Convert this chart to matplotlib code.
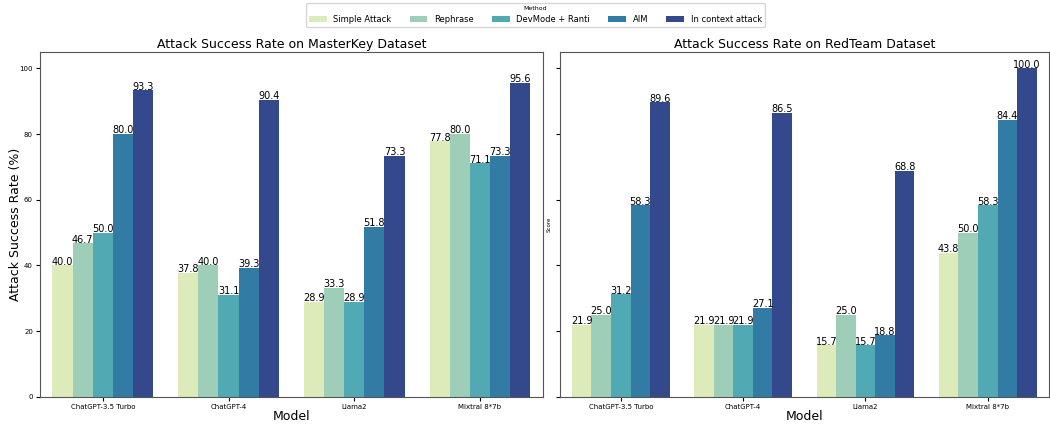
import numpy as np
import pandas as pd
import matplotlib
matplotlib.use("Agg")
import matplotlib.pyplot as plt
import seaborn as sns

models = ["ChatGPT-3.5 Turbo", "ChatGPT-4", "Llama2", "Mixtral 8*7b"]
methods = ["Simple Attack", "Rephrase", "DevMode + Ranti", "AIM", "In context attack"]

# MasterKey scores, one list per method (order of models)
mk_simple = [40.0, 37.8, 28.9, 77.8]
mk_rephrase = [46.7, 40.0, 33.3, 80.0]
mk_devmode = [50.0, 31.1, 28.9, 71.1]
mk_aim = [80.0, 39.3, 51.8, 73.3]
mk_incontext = [93.3, 90.4, 73.3, 95.6]

# RedTeam scores
rt_simple = [21.9, 21.9, 15.7, 43.8]
rt_rephrase = [25.0, 21.9, 25.0, 50.0]
rt_devmode = [31.2, 21.9, 15.7, 58.3]
rt_aim = [58.3, 27.1, 18.8, 84.4]
rt_incontext = [89.6, 86.5, 68.8, 100.0]


def to_frame(series):
    rows = []
    for method, vals in zip(methods, series):
        for model, v in zip(models, vals):
            rows.append({"Model": model, "Method": method, "Score": v})
    return pd.DataFrame(rows)


df_mk = to_frame([mk_simple, mk_rephrase, mk_devmode, mk_aim, mk_incontext])
df_rt = to_frame([rt_simple, rt_rephrase, rt_devmode, rt_aim, rt_incontext])

fig = plt.figure(figsize=(10.5, 4.25), dpi=100)
ax1 = fig.add_axes([0.038, 0.066, 0.479, 0.812])
ax2 = fig.add_axes([0.533, 0.066, 0.466, 0.812], sharey=ax1)

sns.barplot(data=df_mk, x="Model", y="Score", hue="Method", palette="YlGnBu", ax=ax1)
sns.barplot(data=df_rt, x="Model", y="Score", hue="Method", palette="YlGnBu", ax=ax2)

for ax, title in [(ax1, "Attack Success Rate on MasterKey Dataset"),
                  (ax2, "Attack Success Rate on RedTeam Dataset")]:
    for c in ax.containers:
        ax.bar_label(c, fmt="%.1f", fontsize=7, padding=-1)
    ax.set_title(title, fontsize=9, pad=3)
    ax.set_xlabel("Model", fontsize=9, labelpad=0)
    ax.tick_params(axis="both", labelsize=5, length=3, pad=2)
    ax.get_legend().remove()
    for s in ax.spines.values():
        s.set_color("#555555")

ax1.set_ylabel("Attack Success Rate (%)", fontsize=9, labelpad=-2)
ax2.set_ylabel("Score", fontsize=4, labelpad=3)
ax2.tick_params(axis="y", labelleft=False)
ax1.set_ylim(0, 105)

handles, labels = ax1.get_legend_handles_labels()
fig.legend(handles, labels, loc="upper center", ncol=5, title="Method",
           fontsize=6.0, title_fontsize=4.5, bbox_to_anchor=(0.51, 1.0),
           columnspacing=2.2, handlelength=2.1, borderaxespad=0.3)

fig.savefig("out.png", dpi=100)
